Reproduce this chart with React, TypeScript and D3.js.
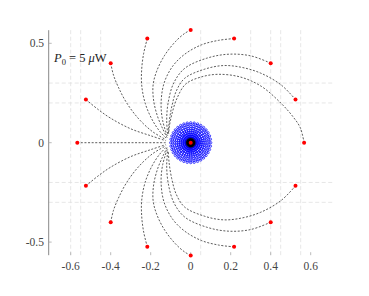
import React from "react";
import * as d3 from "d3";

// Tick labels
const xTicks = [-0.6, -0.4, -0.2, 0, 0.2, 0.4, 0.6];
const yTicks = [-0.5, 0, 0.5];
// Light dashed grid positions (as seen in the picture)
const xGrid = [-0.6, -0.55, -0.45, 0.05, 0.3, 0.4, 0.45, 0.55];
const yGrid = [-0.3, -0.2, 0.2, 0.3];

// Start positions (red dots)
const dotX = [0.567, 0.524, 0.4, 0.217, 0, -0.217, -0.4, -0.524, -0.567, -0.524, -0.4, -0.217, 0, 0.217, 0.4, 0.524];
const dotY = [0, 0.217, 0.4, 0.524, 0.567, 0.524, 0.4, 0.217, 0, -0.217, -0.4, -0.524, -0.567, -0.524, -0.4, -0.217];

// Trajectories (upper half); lower half is the mirror image
const traj0: [number, number][] = [[0.567, 0], [0.548, 0.075], [0.512, 0.13], [0.455, 0.195], [0.354, 0.283], [0.25, 0.33], [0.137, 0.344], [0.05, 0.33], [-0.025, 0.295], [-0.07, 0.22], [-0.095, 0.14], [-0.107, 0.08], [-0.11, 0.045]];
const traj22: [number, number][] = [[0.524, 0.217], [0.453, 0.29], [0.35, 0.35], [0.25, 0.38], [0.162, 0.388], [0.07, 0.37], [-0.03, 0.324], [-0.072, 0.26], [-0.095, 0.18], [-0.108, 0.1], [-0.112, 0.04]];
const traj45: [number, number][] = [[0.4, 0.4], [0.3, 0.437], [0.187, 0.445], [0.08, 0.425], [-0.03, 0.374], [-0.085, 0.3], [-0.113, 0.2], [-0.12, 0.11], [-0.114, 0.035]];
const traj67: [number, number][] = [[0.217, 0.524], [0.14, 0.515], [0.053, 0.492], [-0.03, 0.445], [-0.09, 0.385], [-0.133, 0.3], [-0.148, 0.2], [-0.14, 0.11], [-0.116, 0.03]];
const traj90: [number, number][] = [[0, 0.567], [-0.03, 0.55], [-0.075, 0.51], [-0.13, 0.44], [-0.17, 0.36], [-0.188, 0.29], [-0.185, 0.21], [-0.165, 0.13], [-0.14, 0.07], [-0.118, 0.025]];
const traj112: [number, number][] = [[-0.217, 0.524], [-0.235, 0.45], [-0.245, 0.37], [-0.245, 0.29], [-0.228, 0.2], [-0.195, 0.12], [-0.157, 0.06], [-0.12, 0.02]];
const traj135: [number, number][] = [[-0.4, 0.4], [-0.386, 0.34], [-0.362, 0.28], [-0.32, 0.2], [-0.26, 0.12], [-0.19, 0.055], [-0.123, 0.015]];
const traj157: [number, number][] = [[-0.524, 0.217], [-0.46, 0.165], [-0.4, 0.123], [-0.3, 0.07], [-0.2, 0.035], [-0.125, 0.01]];
const traj180: [number, number][] = [[-0.567, 0], [-0.4, 0], [-0.25, 0], [-0.125, 0]];

const upper = [traj0, traj22, traj45, traj67, traj90, traj112, traj135, traj157, traj180];
const mirrored = [traj22, traj45, traj67, traj90, traj112, traj135, traj157];

// Blue focal disk (polar mesh)
const ringRadii = [0.012, 0.022, 0.032, 0.042, 0.052, 0.062, 0.072, 0.082, 0.092, 0.1];
const spokeCount = 36;

const W = 369, H = 296;
const SERIF = "'Liberation Serif', 'Times New Roman', Times, serif";

export default function App() {
  const x = d3.scaleLinear().domain([-0.71, 0.71]).range([48.7, 332.7]);
  const y = d3.scaleLinear().domain([-0.566, 0.566]).range([255.2, 30.2]);
  const line = d3
    .line<[number, number]>()
    .x((d) => x(d[0]))
    .y((d) => y(d[1]))
    .curve(d3.curveCatmullRom.alpha(0.5));

  const paths: [number, number][][] = [
    ...upper,
    ...mirrored.map((t) => t.map((p) => [p[0], -p[1]] as [number, number])),
  ];

  const meshPts: { cx: number; cy: number; inner: boolean }[] = [];
  ringRadii.forEach((r) => {
    d3.range(spokeCount).forEach((i) => {
      const a = (i / spokeCount) * 2 * Math.PI;
      meshPts.push({ cx: x(r * Math.cos(a)), cy: y(r * Math.sin(a)), inner: r < 0.03 });
    });
  });

  const [y0, y1] = y.range();

  return (
    <svg width={W} height={H} style={{ position: "absolute", left: 0, top: 0, background: "#fff" }}>
      {/* grid */}
      <g stroke="#e0e0e0" strokeWidth={0.8} strokeDasharray="4 2.5">
        {xGrid.map((g) => (
          <line key={"xg" + g} x1={x(g)} x2={x(g)} y1={y1} y2={y0} />
        ))}
        {yGrid.map((g) => (
          <line key={"yg" + g} x1={x.range()[0]} x2={x.range()[1]} y1={y(g)} y2={y(g)} />
        ))}
      </g>
      {/* y axis line */}
      <line x1={x.range()[0]} x2={x.range()[0]} y1={y1} y2={y0} stroke="#888" strokeWidth={1} />
      {/* ticks */}
      <g stroke="#aaa" strokeWidth={0.8}>
        {xTicks.map((t) => (
          <line key={"xt" + t} x1={x(t)} x2={x(t)} y1={y0} y2={y0 - 3} />
        ))}
        {yTicks.map((t) => (
          <line key={"yt" + t} x1={x.range()[0]} x2={x.range()[0] + 3} y1={y(t)} y2={y(t)} />
        ))}
      </g>
      <g style={{ fontFamily: SERIF, fontSize: "11.5px" }} fill="#444">
        {xTicks.map((t) => (
          <text key={"xl" + t} x={x(t)} y={269.5} textAnchor="middle">
            {String(t)}
          </text>
        ))}
        {yTicks.map((t) => (
          <text key={"yl" + t} x={44} y={y(t) + 4} textAnchor="end">
            {String(t)}
          </text>
        ))}
      </g>
      {/* trajectories */}
      <g fill="none" stroke="#333" strokeWidth={0.8} strokeDasharray="2 1.6">
        {paths.map((p, i) => (
          <path key={"p" + i} d={line(p) || ""} />
        ))}
      </g>
      {/* focal disk */}
      <g fill="none" strokeWidth={0.7}>
        {meshPts.map((p, i) => (
          <circle key={"m" + i} cx={p.cx} cy={p.cy} r={1.2} stroke={p.inner ? "#000" : "#0000ff"} />
        ))}
      </g>
      <circle cx={x(0)} cy={y(0)} r={2} fill="#ff0000" />
      {/* start points */}
      <g fill="#ff0000">
        {dotX.map((dx, i) => (
          <circle key={"d" + i} cx={x(dx)} cy={y(dotY[i])} r={2} />
        ))}
      </g>
      {/* annotation */}
      <text x={54} y={62} style={{ fontFamily: SERIF, fontSize: "12.5px" }} fill="#222">
        <tspan fontStyle="italic">P</tspan>
        <tspan style={{ fontSize: "8.5px" }} dy={2.5}>0</tspan>
        <tspan dy={-2.5}>{" = 5 "}</tspan>
        <tspan fontStyle="italic">μ</tspan>
        <tspan>W</tspan>
      </text>
    </svg>
  );
}
